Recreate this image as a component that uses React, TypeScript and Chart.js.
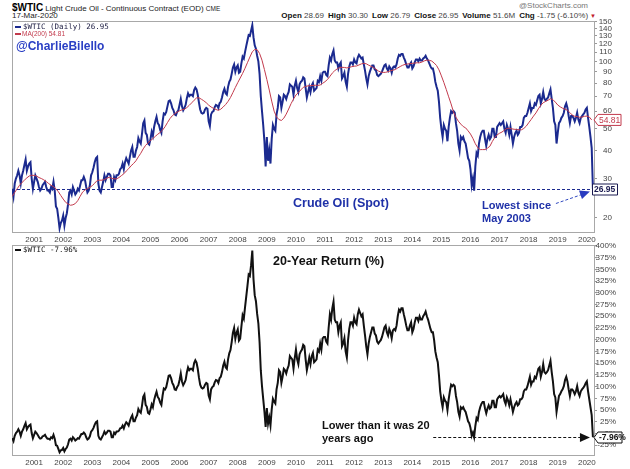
import React, { useEffect, useRef } from "react";
import { Chart, registerables } from "chart.js";

Chart.register(...registerables);

const FONT = "'Liberation Sans', Arial, Helvetica, sans-serif";
const MONO = "'DejaVu Sans Mono', 'Liberation Mono', monospace";
const NAVY = "#1b2a8f";
const MA_RED = "#c23a4c";
const LABEL_BLUE = "#1f31a8";

// time axis (decimal years)
const X_MIN = 2000.24;
const X_MAX = 2020.28;
const PRICE_START = 2000.25; // first semi-monthly sample (Apr 2000)
const PRICE_STEP = 1 / 24;
const MA_START = 2000.25;
const MA_STEP = 1 / 12;

const YEAR_TICKS = [2001, 2002, 2003, 2004, 2005, 2006, 2007, 2008, 2009, 2010, 2011, 2012, 2013, 2014, 2015, 2016, 2017, 2018, 2019, 2020];
const PRICE_TICKS = [20, 30, 40, 50, 60, 70, 80, 90, 100, 110, 120, 130, 140, 150];
const RETURN_TICKS = [-25, 0, 25, 50, 75, 100, 125, 150, 175, 200, 225, 250, 275, 300, 325, 350, 375, 400];

const LAST_PRICE = 26.95;
const LAST_MA = 54.81;
const LAST_RETURN = -7.96;

// $WTIC, two samples per month, Apr 2000 .. Mar 2020
const PRICE = [
  // 2000 Apr-Dec
  27, 25, 28.5, 30, 31, 32.5, 31, 28.5, 31, 32.5, 34.5, 36.5, 32.5, 34, 35, 35.5, 30, 27,
  // 2001
  29, 31, 30, 29, 27.5, 26.5, 27, 28, 28.5, 29, 27.5, 26.5, 26.5, 26, 27.5, 27, 29, 26.5, 22.5, 22, 20, 18, 19, 19.5,
  // 2002
  20.5, 18.5, 20, 21, 23, 26, 26.5, 25.5, 27.5, 26.5, 25.5, 26, 27, 26.5, 28, 29.5, 29.5, 30.5, 29.5, 27.5, 26, 26.5, 28, 31,
  // 2003
  32, 33.5, 35.5, 37, 37.5, 28.5, 26.5, 26, 27.5, 29, 31, 29.5, 30.5, 31.5, 31.5, 31, 27.5, 27.5, 30.5, 29.5, 31, 31, 31.5, 33,
  // 2004
  33.5, 35, 33, 35.5, 37, 36, 35, 37.5, 40, 41.5, 37.5, 37.5, 40, 41.5, 45.5, 44, 43, 47.5, 53, 54.5, 48, 47, 43, 42.5,
  // 2005
  45, 48.5, 46.5, 51, 54, 56.5, 53, 52, 49.5, 48, 54, 58.5, 58, 59.5, 63, 66.5, 67, 65, 62, 60.5, 58, 57.5, 59.5, 60.5,
  // 2006
  64, 68, 63, 60.5, 62, 64, 68.5, 72, 70, 71, 71, 70, 74.5, 76.5, 75, 71, 65.5, 61, 59, 58.5, 59, 61, 62, 61.5,
  // 2007
  54, 51.5, 58, 59.5, 60, 62.5, 64, 63.5, 62, 65, 66, 69, 73, 75.5, 72, 71, 77, 81, 83, 88, 94, 97, 90, 94,
  // 2008
  96, 89, 90, 98, 105, 103, 110, 117, 124, 131, 130, 137, 145, 128, 118, 114, 106, 100, 88, 70, 60, 52, 44, 34,
  // 2009
  46, 36, 40, 35, 45, 52, 50, 49, 58, 62, 70, 69, 62, 66, 71, 70, 68, 71, 73, 79, 78, 77, 71, 78,
  // 2010
  82, 76, 73, 79, 81, 82, 85, 84, 76, 69, 73, 77, 73, 78, 80, 74, 75, 76, 82, 81, 86, 82, 89, 90,
  // 2011
  90, 87, 86, 96, 104, 101, 108, 112, 101, 99, 99, 93, 97, 99, 84, 86, 89, 81, 77, 88, 95, 99, 99, 97,
  // 2012
  102, 99, 98, 104, 107, 105, 103, 104, 97, 91, 84, 79, 86, 90, 93, 96, 96, 92, 91, 87, 86, 87, 88, 90,
  // 2013
  93, 96, 97, 93, 91, 95, 93, 89, 94, 95, 94, 97, 103, 107, 106, 108, 108, 104, 101, 97, 94, 94, 97, 99,
  // 2014
  93, 95, 99, 102, 102, 100, 103, 101, 101, 103, 104, 106, 103, 101, 98, 95, 93, 93, 88, 81, 77, 74, 66, 56,
  // 2015
  50, 46, 52, 50, 49, 44, 51, 56, 60, 59, 60, 59, 53, 49, 43, 40, 46, 45, 46, 44, 43, 40, 37, 36,
  // 2016
  33, 28, 30, 26.5, 34, 39, 38, 43, 46, 48, 49, 49, 45, 42, 45, 47, 45, 46, 50, 50, 46, 46, 51, 52,
  // 2017
  53, 52, 53, 54, 50, 48, 52, 50, 47, 51, 47, 43, 46, 48, 49, 47, 48, 51, 51, 52, 56, 57, 57, 59,
  // 2018
  62, 65, 60, 62, 62, 65, 64, 67, 70, 71, 65, 68, 73, 68, 67, 68, 69, 72, 75, 68, 62, 54, 52, 43,
  // 2019
  48, 53, 54, 56, 57, 59, 63, 65, 62, 57, 53, 57, 57, 56, 54, 56, 59, 55, 53, 56, 57, 58, 59, 61,
  // 2020 Jan-Mar
  62, 56, 51, 46, 41, 26.95,
];

// MA(200), one value per month, Apr 2000 .. Mar 2020
const MA200 = [
  25, 26, 27, 28, 28.8, 29.5, 30.2, 30.8, 31.0,
  31.0, 30.8, 30.3, 30.0, 29.6, 29.1, 28.5, 28.0, 27.6, 27.0, 26.2, 25.2,
  24.3, 23.5, 23.1, 22.8, 22.9, 23.2, 23.9, 25.0, 26.1, 26.7, 27.0, 27.4,
  27.9, 28.6, 29.4, 29.5, 29.5, 29.7, 30.1, 30.4, 30.1, 29.9, 29.9, 30.3,
  30.9, 31.5, 32.4, 33.2, 34.2, 35.0, 36.0, 37.5, 38.9, 40.7, 42.2, 43.3,
  44.3, 45.2, 46.3, 47.3, 48.2, 49.4, 51.1, 53.3, 55.5, 57.2, 58.4, 59.4,
  60.2, 60.8, 61.2, 62.2, 63.7, 65.3, 67.1, 68.7, 68.8, 67.8, 66.7, 65.4,
  63.8, 62.6, 61.7, 61.0, 60.5, 61.2, 62.6, 64.2, 66.3, 69.0, 72.6, 76.5,
  80.4, 84.3, 88.4, 93.2, 98.7, 104.6, 110.4, 113.0, 112.8, 108.5, 101.3, 92.0,
  83.0, 74.5, 66.5, 60.0, 56.5, 55.0, 54.5, 55.8, 58.2, 61.3, 64.8, 67.9,
  70.8, 72.6, 74.6, 76.6, 77.3, 77.8, 78.0, 78.1, 78.3, 78.1, 78.5, 79.8,
  81.2, 83.0, 85.7, 88.7, 90.9, 92.6, 94.0, 94.1, 94.0, 93.5, 94.1, 94.7,
  95.2, 95.4, 96.4, 97.5, 98.0, 97.6, 96.2, 95.1, 93.9, 92.4, 90.6, 89.6,
  89.3, 89.4, 90.0, 90.8, 91.4, 92.0, 93.5, 94.9, 96.1, 97.0, 97.4, 97.7,
  98.0, 98.3, 98.6, 98.6, 99.4, 100.6, 101.3, 101.2, 100.4, 98.4, 95.9, 91.7,
  86.2, 80.6, 75.0, 69.5, 64.6, 59.4, 56.3, 54.1, 52.5, 51.2, 50.5, 49.0,
  47.4, 45.3, 42.9, 41.2, 40.4, 40.4, 40.4, 41.0, 41.8, 43.9, 45.7, 47.0,
  47.8, 48.4, 49.3, 50.2, 50.3, 50.0, 49.8, 49.7, 49.5, 49.5, 50.2, 51.4,
  53.2, 55.0, 57.0, 58.9, 61.4, 63.7, 65.4, 66.3, 67.1, 68.2, 67.5, 65.8,
  63.9, 62.7, 61.8, 61.2, 60.5, 59.1, 57.6, 56.9, 56.7, 56.3, 56.4, 56.9,
  57.0, 56.5, 54.81,
];

// 20-year return (%), two samples per month, Apr 2000 .. Mar 2020
const RETURN20 = [
  // 2000 Apr-Dec
  -10, -16, -5, 1, 4, 9, 4, -5, 4, 9, 16, 22, 9, 14, 17, 19, 1, -10,
  // 2001
  -3, 4, 1, -3, -8, -11, -10, -6, -5, -3, -8, -11, -11, -13, -8, -10, -3, -11, -25, -26, -33, -40, -36, -35,
  // 2002
  -31, -38, -33, -30, -23, -13, -11, -15, -8, -11, -15, -13, -10, -11, -6, -1, -1, 2, -1, -8, -13, -11, -6, 4,
  // 2003
  7, 12, 19, 24, 26, -5, -11, -13, -8, -3, 4, -1, 2, 6, 6, 4, -8, -8, 2, -1, 4, 4, 6, 11,
  // 2004
  12, 17, 11, 19, 24, 21, 17, 26, 34, 39, 26, 26, 34, 39, 52, 47, 44, 59, 78, 83, 61, 57, 44, 42,
  // 2005
  51, 62, 56, 71, 81, 89, 78, 74, 66, 61, 81, 96, 94, 99, 111, 123, 124, 118, 108, 103, 94, 93, 99, 103,
  // 2006
  114, 128, 111, 103, 108, 114, 130, 141, 135, 138, 138, 135, 150, 156, 151, 138, 119, 104, 98, 96, 98, 104, 108, 106,
  // 2007
  81, 73, 94, 99, 101, 109, 114, 113, 108, 118, 121, 131, 145, 153, 141, 138, 158, 171, 178, 195, 215, 225, 202, 215,
  // 2008
  222, 198, 202, 228, 252, 245, 269, 292, 315, 339, 336, 359, 390, 329, 295, 282, 255, 235, 195, 135, 101, 74, 47, 14,
  // 2009
  54, 21, 34, 17, 51, 74, 68, 64, 94, 108, 135, 131, 108, 121, 138, 135, 128, 138, 145, 165, 161, 158, 138, 161,
  // 2010
  179, 158, 148, 169, 175, 179, 189, 186, 158, 135, 148, 162, 148, 165, 172, 152, 155, 158, 179, 175, 192, 179, 203, 206,
  // 2011
  206, 196, 192, 226, 254, 243, 267, 281, 243, 237, 237, 216, 230, 237, 186, 192, 203, 175, 162, 199, 223, 237, 237, 230,
  // 2012
  247, 237, 233, 254, 264, 257, 250, 254, 230, 209, 186, 169, 192, 206, 216, 226, 226, 213, 209, 196, 192, 196, 199, 206,
  // 2013
  216, 226, 230, 216, 209, 223, 216, 203, 220, 223, 220, 230, 250, 264, 260, 267, 267, 254, 243, 230, 220, 220, 230, 237,
  // 2014
  216, 223, 237, 247, 247, 240, 250, 243, 243, 250, 254, 260, 250, 243, 233, 223, 216, 216, 199, 175, 162, 152, 124, 90,
  // 2015
  70, 56, 77, 70, 67, 50, 73, 90, 104, 101, 104, 101, 80, 67, 46, 36, 56, 53, 56, 50, 46, 36, 26, 22,
  // 2016
  12, -5, 2, -8, 16, 33, 29, 46, 56, 63, 67, 67, 53, 43, 53, 60, 53, 56, 70, 70, 56, 56, 73, 77,
  // 2017
  80, 77, 80, 84, 70, 63, 77, 70, 60, 73, 60, 46, 56, 63, 67, 60, 63, 73, 73, 77, 90, 94, 94, 101,
  // 2018
  111, 121, 104, 111, 111, 121, 118, 128, 138, 141, 121, 131, 148, 131, 128, 131, 135, 145, 155, 131, 111, 84, 77, 46,
  // 2019
  63, 80, 84, 90, 94, 101, 114, 121, 111, 94, 80, 94, 94, 90, 84, 90, 101, 87, 80, 90, 94, 97, 101, 107,
  // 2020 Jan-Mar
  111, 90, 73, 56, 39, -7.96,
];

const priceTime = (i: number) => PRICE_START + i * PRICE_STEP;
const maTime = (i: number) => MA_START + i * MA_STEP;

function tag(ctx: CanvasRenderingContext2D, x: number, y: number, w: number, text: string, color: string, textColor: string, bold: boolean, pointed: boolean) {
  const h = 11;
  ctx.save();
  ctx.setLineDash([]);
  ctx.beginPath();
  if (pointed) {
    ctx.moveTo(x, y);
    ctx.lineTo(x + 4, y - h / 2);
    ctx.lineTo(x + w, y - h / 2);
    ctx.lineTo(x + w, y + h / 2);
    ctx.lineTo(x + 4, y + h / 2);
    ctx.closePath();
  } else {
    ctx.rect(x + 0.5, y - h / 2, w, h);
  }
  ctx.fillStyle = "#fff";
  ctx.fill();
  ctx.lineWidth = 1;
  ctx.strokeStyle = color;
  ctx.stroke();
  ctx.fillStyle = textColor;
  ctx.font = `${bold ? "bold " : ""}8.5px ${FONT}`;
  ctx.textAlign = "left";
  ctx.textBaseline = "middle";
  ctx.fillText(text, x + (pointed ? 5 : 2), y + 0.5);
  ctx.restore();
}

function border(ctx: CanvasRenderingContext2D, a: any) {
  ctx.save();
  ctx.strokeStyle = "#a8a8a8";
  ctx.lineWidth = 1;
  ctx.strokeRect(a.left + 0.5, a.top + 0.5, a.right - a.left - 1, a.bottom - a.top - 1);
  ctx.restore();
}

function arrowHead(ctx: CanvasRenderingContext2D, fx: number, fy: number, tx: number, ty: number, len: number, half: number, color: string) {
  const dx = tx - fx, dy = ty - fy;
  const d = Math.hypot(dx, dy);
  const ux = dx / d, uy = dy / d;
  const bx = tx - ux * len, by = ty - uy * len;
  ctx.beginPath();
  ctx.moveTo(tx, ty);
  ctx.lineTo(bx - uy * half, by + ux * half);
  ctx.lineTo(bx + uy * half, by - ux * half);
  ctx.closePath();
  ctx.fillStyle = color;
  ctx.fill();
}

const topOverlay = {
  id: "topOverlay",
  beforeDatasetsDraw(chart: any) {
    border(chart.ctx, chart.chartArea);
  },
  afterDraw(chart: any) {
    const { ctx, chartArea: a, scales } = chart;
    const xs = scales.x, ys = scales.y;
    const xEnd = xs.getPixelForValue(priceTime(PRICE.length - 1));
    const yl = Math.round(ys.getPixelForValue(LAST_PRICE)) + 0.5;
    ctx.save();
    // level line
    ctx.setLineDash([3, 2]);
    ctx.strokeStyle = NAVY;
    ctx.lineWidth = 1;
    ctx.beginPath();
    ctx.moveTo(a.left, yl);
    ctx.lineTo(xEnd, yl);
    ctx.stroke();
    // legend
    ctx.setLineDash([]);
    ctx.fillStyle = NAVY;
    ctx.fillRect(a.left + 3, a.top + 5, 6, 2);
    ctx.font = `7.5px ${MONO}`;
    ctx.textBaseline = "middle";
    ctx.textAlign = "left";
    ctx.fillStyle = "#1a1a40";
    ctx.fillText("$WTIC (Daily) 26.95", a.left + 11, a.top + 6);
    ctx.fillStyle = MA_RED;
    ctx.fillRect(a.left + 3, a.top + 12, 6, 2);
    ctx.font = `6.5px ${FONT}`;
    ctx.fillText("MA(200) 54.81", a.left + 10, a.top + 13);
    // handle
    ctx.font = `bold 12px ${FONT}`;
    ctx.fillStyle = "#2a3fc4";
    ctx.fillText("@CharlieBilello", a.left + 4, a.top + 26);
    // annotations
    ctx.fillStyle = LABEL_BLUE;
    ctx.font = `bold 12.5px ${FONT}`;
    ctx.fillText("Crude Oil (Spot)", a.left + 281, yl + 14);
    ctx.font = `bold 11px ${FONT}`;
    ctx.fillText("Lowest since", a.left + 470, yl + 16);
    ctx.fillText("May 2003", a.left + 470, yl + 29);
    // dashed arrow
    const sx = xEnd - 37, sy = yl + 14;
    const tx = xEnd - 3, ty = yl + 2;
    ctx.setLineDash([3, 2]);
    ctx.strokeStyle = "#3048c0";
    ctx.lineWidth = 1;
    ctx.beginPath();
    ctx.moveTo(sx, sy);
    ctx.lineTo(tx - 8, ty + 3);
    ctx.stroke();
    ctx.setLineDash([]);
    arrowHead(ctx, sx, sy, tx, ty, 10, 4.5, "#2a3cc0");
    // value tags
    tag(ctx, a.right - 1, ys.getPixelForValue(LAST_MA), 27, "54.81", MA_RED, MA_RED, false, true);
    tag(ctx, a.right - 3, yl, 25, "26.95", "#1a1a50", "#1a1a50", true, false);
    ctx.restore();
  },
};

const bottomOverlay = {
  id: "bottomOverlay",
  beforeDatasetsDraw(chart: any) {
    border(chart.ctx, chart.chartArea);
  },
  afterDraw(chart: any) {
    const { ctx, chartArea: a, scales } = chart;
    const xs = scales.x, ys = scales.y;
    const xEnd = xs.getPixelForValue(priceTime(RETURN20.length - 1));
    const yl = Math.round(ys.getPixelForValue(LAST_RETURN)) + 0.5;
    ctx.save();
    // legend
    ctx.fillStyle = "#111";
    ctx.fillRect(a.left + 3, a.top + 4, 6, 2);
    ctx.font = `7.5px ${MONO}`;
    ctx.textBaseline = "middle";
    ctx.textAlign = "left";
    ctx.fillText("$WTIC -7.96%", a.left + 11, a.top + 5);
    // title
    ctx.font = `bold 12.5px ${FONT}`;
    ctx.fillStyle = "#111";
    ctx.fillText("20-Year Return (%)", a.left + 261, a.top + 17);
    // note
    ctx.font = `bold 11px ${FONT}`;
    ctx.fillText("Lower than it was 20", a.left + 310, yl - 12);
    ctx.fillText("years ago", a.left + 310, yl + 1);
    // dashed arrow
    const sx = xs.getPixelForValue(2014.72);
    ctx.setLineDash([3, 2]);
    ctx.strokeStyle = "#111";
    ctx.lineWidth = 1;
    ctx.beginPath();
    ctx.moveTo(sx, yl);
    ctx.lineTo(xEnd - 12, yl);
    ctx.stroke();
    ctx.setLineDash([]);
    arrowHead(ctx, sx, yl, xEnd - 3, yl, 10, 4.5, "#111");
    tag(ctx, a.right - 1, yl, 28, "-7.96%", "#111", "#111", true, true);
    ctx.restore();
  },
};

function xAxis(): any {
  return {
    type: "linear",
    min: X_MIN,
    max: X_MAX,
    afterBuildTicks: (s: any) => {
      s.ticks = YEAR_TICKS.map((v) => ({ value: v }));
    },
    afterFit: (s: any) => {
      s.height = 13;
    },
    ticks: {
      callback: (v: any) => String(v),
      autoSkip: false,
      maxRotation: 0,
      padding: 2,
      color: "#444",
      font: { size: 8, family: FONT },
    },
    grid: { display: false, drawTicks: false },
    border: { display: false },
  };
}

export default function App() {
  const topRef = useRef<HTMLCanvasElement>(null);
  const botRef = useRef<HTMLCanvasElement>(null);

  useEffect(() => {
    Chart.defaults.font.family = FONT;
    const top = new Chart(topRef.current as HTMLCanvasElement, {
      type: "line",
      data: {
        datasets: [
          {
            label: "MA(200)",
            data: MA200.map((v, i) => ({ x: maTime(i), y: v })),
            borderColor: MA_RED,
            borderWidth: 1,
            pointRadius: 0,
            tension: 0,
          },
          {
            label: "$WTIC",
            data: PRICE.map((v, i) => ({ x: priceTime(i), y: v })),
            borderColor: NAVY,
            borderWidth: 2,
            pointRadius: 0,
            tension: 0,
          },
        ],
      },
      options: {
        responsive: false,
        animation: false,
        devicePixelRatio: 1,
        layout: { padding: { left: 12, top: 21, right: 18, bottom: 0 } },
        plugins: { legend: { display: false }, tooltip: { enabled: false } },
        scales: {
          x: xAxis(),
          y: {
            type: "logarithmic",
            position: "right",
            min: 17.14,
            max: 151.5,
            bounds: "data",
            afterBuildTicks: (s: any) => {
              s.ticks = PRICE_TICKS.map((v) => ({ value: v }));
            },
            afterFit: (s: any) => {
              s.width = 17;
            },
            ticks: {
              callback: (v: any) => String(v),
              autoSkip: false,
              crossAlign: "far",
              padding: 2,
              color: "#444",
              font: { size: 8, family: FONT },
            },
            grid: { drawOnChartArea: false, drawTicks: true, tickLength: 2, color: "#999" },
            border: { display: false },
          },
        },
      },
      plugins: [topOverlay],
    } as any);

    const bot = new Chart(botRef.current as HTMLCanvasElement, {
      type: "line",
      data: {
        datasets: [
          {
            label: "$WTIC 20Y",
            data: RETURN20.map((v, i) => ({ x: priceTime(i), y: v })),
            borderColor: "#111",
            borderWidth: 2,
            pointRadius: 0,
            tension: 0,
          },
        ],
      },
      options: {
        responsive: false,
        animation: false,
        devicePixelRatio: 1,
        layout: { padding: { left: 12, top: 9, right: 14, bottom: 0 } },
        plugins: { legend: { display: false }, tooltip: { enabled: false } },
        scales: {
          x: xAxis(),
          y: {
            type: "linear",
            position: "right",
            min: -48,
            max: 402,
            bounds: "data",
            afterBuildTicks: (s: any) => {
              s.ticks = RETURN_TICKS.map((v) => ({ value: v }));
            },
            afterFit: (s: any) => {
              s.width = 21;
            },
            ticks: {
              callback: (v: any) => `${v}%`,
              autoSkip: false,
              crossAlign: "far",
              padding: 2,
              color: "#444",
              font: { size: 8, family: FONT },
            },
            grid: { drawOnChartArea: false, drawTicks: true, tickLength: 2, color: "#999" },
            border: { display: false },
          },
        },
      },
      plugins: [bottomOverlay],
    } as any);

    return () => {
      top.destroy();
      bot.destroy();
    };
  }, []);

  const bold: React.CSSProperties = { fontWeight: "bold", color: "#111" };
  const val: React.CSSProperties = { color: "#444", marginRight: 4 };

  return (
    <div style={{ position: "fixed", left: 0, top: 0, width: 630, height: 469, background: "#fff", fontFamily: FONT, overflow: "hidden" }}>
      <div style={{ position: "absolute", left: 12, top: 0, lineHeight: "12px", whiteSpace: "nowrap", color: "#222" }}>
        <span style={{ fontWeight: "bold", fontSize: 10, color: "#000" }}>$WTIC</span>
        <span style={{ fontSize: 8 }}> Light Crude Oil - Continuous Contract (EOD) </span>
        <span style={{ fontSize: 6.5 }}>CME</span>
      </div>
      <div style={{ position: "absolute", left: 12, top: 11, fontSize: 8, lineHeight: "10px", color: "#222", whiteSpace: "nowrap" }}>17-Mar-2020</div>
      <div style={{ position: "absolute", right: 42, top: 1, fontSize: 8, lineHeight: "10px", color: "#777", whiteSpace: "nowrap" }}>@StockCharts.com</div>
      <div style={{ position: "absolute", right: 34, top: 11, fontSize: 8, lineHeight: "10px", whiteSpace: "nowrap" }}>
        <span style={bold}>Open </span><span style={val}>28.69</span>
        <span style={bold}>High </span><span style={val}>30.30</span>
        <span style={bold}>Low </span><span style={val}>26.79</span>
        <span style={bold}>Close </span><span style={val}>26.95</span>
        <span style={bold}>Volume </span><span style={val}>51.6M</span>
        <span style={bold}>Chg </span><span style={{ color: "#444" }}>-1.75 (-6.10%)</span>
        <span style={{ color: "#c0202a", fontSize: 6, marginLeft: 2 }}>▼</span>
      </div>
      <canvas ref={topRef} width={630} height={246} style={{ position: "absolute", left: 0, top: 0 }} />
      <canvas ref={botRef} width={630} height={233} style={{ position: "absolute", left: 0, top: 236 }} />
    </div>
  );
}
